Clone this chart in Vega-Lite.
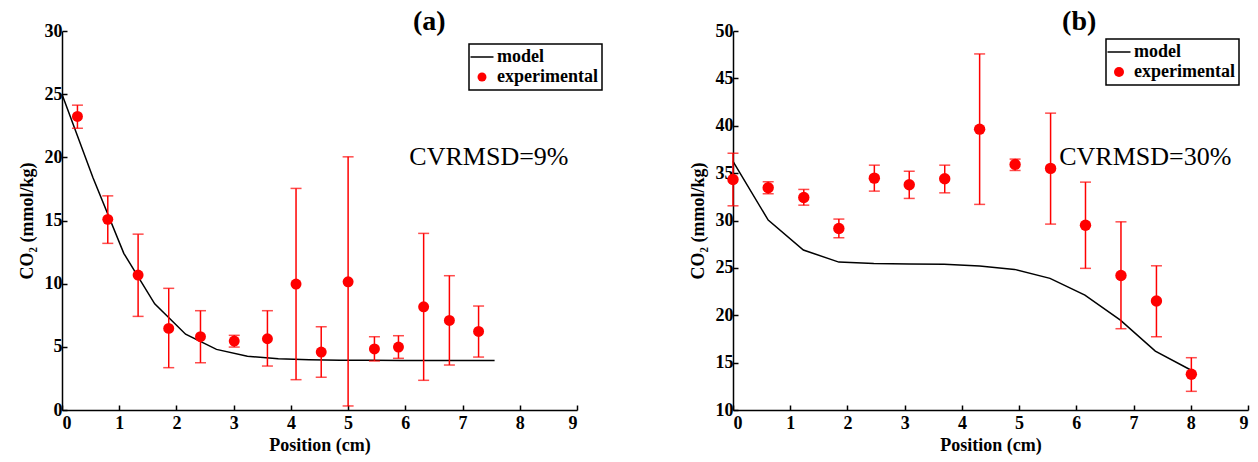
{
  "$schema": "https://vega.github.io/schema/vega-lite/v6.json",
  "padding": {"left": 18, "top": 8, "right": 5, "bottom": 5},
  "config": {
    "font": "Liberation Serif",
    "view": {"stroke": null},
    "axis": {
      "grid": false,
      "domainColor": "black",
      "domainWidth": 1.5,
      "tickColor": "black",
      "tickWidth": 1.5,
      "tickSize": -5,
      "labelFont": "Liberation Serif",
      "labelFontWeight": "bold",
      "labelFontSize": 18,
      "labelColor": "black",
      "titleFont": "Liberation Serif",
      "titleFontWeight": "bold",
      "titleFontSize": 18,
      "titleColor": "black",
      "format": "d"
    },
    "axisX": {"labelPadding": 9, "titlePadding": 4},
    "axisY": {"labelPadding": 5, "titlePadding": 8},
    "legend": {
      "title": null,
      "orient": "none",
      "strokeColor": "black",
      "padding": 4,
      "fillColor": "white",
      "labelFont": "Liberation Serif",
      "labelFontWeight": "bold",
      "labelFontSize": 18,
      "labelColor": "black",
      "labelOffset": 6,
      "rowPadding": 2,
      "symbolSize": 529
    }
  },
  "datasets": {
    "modelA": [
      {"pos": 0, "co2": 25}, {"pos": 0.54, "co2": 18.4}, {"pos": 1.08, "co2": 12.4},
      {"pos": 1.62, "co2": 8.4}, {"pos": 2.16, "co2": 6.0}, {"pos": 2.70, "co2": 4.8},
      {"pos": 3.24, "co2": 4.25}, {"pos": 3.78, "co2": 4.05}, {"pos": 4.32, "co2": 3.97},
      {"pos": 4.86, "co2": 3.94}, {"pos": 5.40, "co2": 3.93}, {"pos": 5.94, "co2": 3.92},
      {"pos": 6.48, "co2": 3.92}, {"pos": 7.02, "co2": 3.92}, {"pos": 7.56, "co2": 3.92}
    ],
    "expA": [
      {"pos": 0.27, "co2": 23.24, "lo": 22.3, "hi": 24.13},
      {"pos": 0.80, "co2": 15.09, "lo": 13.19, "hi": 16.95},
      {"pos": 1.33, "co2": 10.68, "lo": 7.41, "hi": 13.92},
      {"pos": 1.865, "co2": 6.46, "lo": 3.35, "hi": 9.63},
      {"pos": 2.42, "co2": 5.8, "lo": 3.74, "hi": 7.86},
      {"pos": 3.01, "co2": 5.46, "lo": 4.98, "hi": 5.91},
      {"pos": 3.59, "co2": 5.64, "lo": 3.48, "hi": 7.86},
      {"pos": 4.09, "co2": 9.97, "lo": 2.4, "hi": 17.54},
      {"pos": 4.53, "co2": 4.59, "lo": 2.59, "hi": 6.59},
      {"pos": 5.0, "co2": 10.15, "lo": 0.32, "hi": 20.04},
      {"pos": 5.46, "co2": 4.83, "lo": 3.88, "hi": 5.8},
      {"pos": 5.88, "co2": 4.98, "lo": 4.09, "hi": 5.88},
      {"pos": 6.32, "co2": 8.17, "lo": 2.35, "hi": 13.98},
      {"pos": 6.77, "co2": 7.09, "lo": 3.56, "hi": 10.63},
      {"pos": 7.28, "co2": 6.22, "lo": 4.19, "hi": 8.23}
    ],
    "modelB": [
      {"pos": 0, "co2": 36.23}, {"pos": 0.615, "co2": 30.04}, {"pos": 1.23, "co2": 26.88},
      {"pos": 1.85, "co2": 25.61}, {"pos": 2.46, "co2": 25.45}, {"pos": 3.08, "co2": 25.4},
      {"pos": 3.69, "co2": 25.37}, {"pos": 4.31, "co2": 25.19}, {"pos": 4.92, "co2": 24.84},
      {"pos": 5.54, "co2": 23.89}, {"pos": 6.15, "co2": 22.13}, {"pos": 6.77, "co2": 19.49},
      {"pos": 7.38, "co2": 16.22}, {"pos": 8.0, "co2": 14.22}
    ],
    "expB": [
      {"pos": 0, "co2": 34.33, "lo": 31.55, "hi": 37.1},
      {"pos": 0.615, "co2": 33.45, "lo": 32.82, "hi": 34.08},
      {"pos": 1.237, "co2": 32.43, "lo": 31.62, "hi": 33.28},
      {"pos": 1.85, "co2": 29.16, "lo": 28.18, "hi": 30.15},
      {"pos": 2.47, "co2": 34.47, "lo": 33.1, "hi": 35.84},
      {"pos": 3.08, "co2": 33.77, "lo": 32.33, "hi": 35.2},
      {"pos": 3.70, "co2": 34.4, "lo": 32.92, "hi": 35.84},
      {"pos": 4.31, "co2": 39.64, "lo": 31.7, "hi": 47.58},
      {"pos": 4.93, "co2": 35.92, "lo": 35.28, "hi": 36.48},
      {"pos": 5.55, "co2": 35.5, "lo": 29.62, "hi": 41.33},
      {"pos": 6.16, "co2": 29.5, "lo": 24.95, "hi": 34.05},
      {"pos": 6.78, "co2": 24.2, "lo": 18.58, "hi": 29.86},
      {"pos": 7.40, "co2": 21.5, "lo": 17.73, "hi": 25.22},
      {"pos": 8.01, "co2": 13.77, "lo": 11.97, "hi": 15.52}
    ]
  },
  "resolve": {
    "scale": {"color": "independent", "x": "independent", "y": "independent"},
    "legend": {"color": "independent"}
  },
  "hconcat": [
    {
      "width": 515,
      "height": 379,
      "layer": [
        {
          "data": {"name": "modelA"},
          "mark": {"type": "line", "strokeWidth": 1.5},
          "encoding": {
            "x": {"field": "pos", "type": "quantitative", "title": "Position (cm)", "scale": {"domain": [0, 9], "nice": false}, "axis": {"values": [0, 1, 2, 3, 4, 5, 6, 7, 8, 9]}},
            "y": {"field": "co2", "type": "quantitative", "title": "CO₂ (mmol/kg)", "scale": {"domain": [0, 30], "nice": false}, "axis": {"values": [0, 5, 10, 15, 20, 25, 30]}},
            "color": {
              "datum": "model", "type": "nominal",
              "scale": {"domain": ["model", "experimental"], "range": ["black", "red"]},
              "legend": {
                "legendX": 407, "legendY": 13,
                "encode": {
                  "legend": {"update": {"strokeWidth": {"value": 1.5}}},
                  "symbols": {"update": {
                    "shape": {"signal": "datum.value === 'model' ? 'stroke' : 'circle'"},
                    "size": {"signal": "datum.value === 'model' ? 529 : 80"},
                    "fill": {"signal": "datum.value === 'model' ? 'transparent' : 'red'"},
                    "stroke": {"signal": "datum.value === 'model' ? 'black' : 'red'"},
                    "strokeWidth": {"signal": "datum.value === 'model' ? 1.5 : 0"},
                    "opacity": {"value": 1}
                  }}
                }
              }
            }
          }
        },
        {
          "data": {"name": "expA"},
          "mark": {"type": "errorbar", "color": "red", "thickness": 1.5, "ticks": {"size": 11, "thickness": 1.5}},
          "encoding": {
            "x": {"field": "pos", "type": "quantitative", "title": "Position (cm)", "scale": {"domain": [0, 9], "nice": false}},
            "y": {"field": "lo", "type": "quantitative", "title": "CO₂ (mmol/kg)", "scale": {"domain": [0, 30], "nice": false}},
            "y2": {"field": "hi"}
          }
        },
        {
          "data": {"name": "expA"},
          "mark": {"type": "point", "filled": true, "size": 120, "opacity": 1, "shape": "circle"},
          "encoding": {
            "x": {"field": "pos", "type": "quantitative", "title": "Position (cm)", "scale": {"domain": [0, 9], "nice": false}},
            "y": {"field": "co2", "type": "quantitative", "title": "CO₂ (mmol/kg)", "scale": {"domain": [0, 30], "nice": false}},
            "color": {"datum": "experimental", "type": "nominal"}
          }
        },
        {
          "data": {"values": [{}]},
          "mark": {"type": "text", "text": "(a)", "font": "Liberation Serif", "fontSize": 28, "fontWeight": "bold", "align": "center", "baseline": "middle", "color": "black"},
          "encoding": {
            "x": {"datum": 6.42, "type": "quantitative"},
            "y": {"datum": 30.7, "type": "quantitative"}
          }
        },
        {
          "data": {"values": [{}]},
          "mark": {"type": "text", "text": "CVRMSD=9%", "font": "Liberation Serif", "fontSize": 26, "align": "left", "baseline": "middle", "color": "black"},
          "encoding": {
            "x": {"datum": 6.07, "type": "quantitative"},
            "y": {"datum": 20.0, "type": "quantitative"}
          }
        }
      ]
    },
    {
      "width": 515,
      "height": 379,
      "layer": [
        {
          "data": {"name": "modelB"},
          "mark": {"type": "line", "strokeWidth": 1.5},
          "encoding": {
            "x": {"field": "pos", "type": "quantitative", "title": "Position (cm)", "scale": {"domain": [0, 9], "nice": false}, "axis": {"values": [0, 1, 2, 3, 4, 5, 6, 7, 8, 9]}},
            "y": {"field": "co2", "type": "quantitative", "title": "CO₂ (mmol/kg)", "scale": {"domain": [10, 50], "nice": false, "zero": false}, "axis": {"values": [10, 15, 20, 25, 30, 35, 40, 45, 50]}},
            "color": {
              "datum": "model", "type": "nominal",
              "scale": {"domain": ["model", "experimental"], "range": ["black", "red"]},
              "legend": {
                "legendX": 373, "legendY": 8,
                "encode": {
                  "legend": {"update": {"strokeWidth": {"value": 1.5}}},
                  "symbols": {"update": {
                    "shape": {"signal": "datum.value === 'model' ? 'stroke' : 'circle'"},
                    "size": {"signal": "datum.value === 'model' ? 529 : 100"},
                    "fill": {"signal": "datum.value === 'model' ? 'transparent' : 'red'"},
                    "stroke": {"signal": "datum.value === 'model' ? 'black' : 'red'"},
                    "strokeWidth": {"signal": "datum.value === 'model' ? 1.5 : 0"},
                    "opacity": {"value": 1}
                  }}
                }
              }
            }
          }
        },
        {
          "data": {"name": "expB"},
          "mark": {"type": "errorbar", "color": "red", "thickness": 1.5, "ticks": {"size": 11, "thickness": 1.5}},
          "encoding": {
            "x": {"field": "pos", "type": "quantitative", "title": "Position (cm)", "scale": {"domain": [0, 9], "nice": false}},
            "y": {"field": "lo", "type": "quantitative", "title": "CO₂ (mmol/kg)", "scale": {"domain": [10, 50], "nice": false, "zero": false}},
            "y2": {"field": "hi"}
          }
        },
        {
          "data": {"name": "expB"},
          "mark": {"type": "point", "filled": true, "size": 130, "opacity": 1, "shape": "circle"},
          "encoding": {
            "x": {"field": "pos", "type": "quantitative", "title": "Position (cm)", "scale": {"domain": [0, 9], "nice": false}},
            "y": {"field": "co2", "type": "quantitative", "title": "CO₂ (mmol/kg)", "scale": {"domain": [10, 50], "nice": false, "zero": false}},
            "color": {"datum": "experimental", "type": "nominal"}
          }
        },
        {
          "data": {"values": [{}]},
          "mark": {"type": "text", "text": "(b)", "font": "Liberation Serif", "fontSize": 28, "fontWeight": "bold", "align": "center", "baseline": "middle", "color": "black"},
          "encoding": {
            "x": {"datum": 6.05, "type": "quantitative"},
            "y": {"datum": 50.93, "type": "quantitative"}
          }
        },
        {
          "data": {"values": [{}]},
          "mark": {"type": "text", "text": "CVRMSD=30%", "font": "Liberation Serif", "fontSize": 26, "align": "left", "baseline": "middle", "color": "black"},
          "encoding": {
            "x": {"datum": 5.7, "type": "quantitative"},
            "y": {"datum": 36.7, "type": "quantitative"}
          }
        }
      ]
    }
  ],
  "spacing": 86
}
